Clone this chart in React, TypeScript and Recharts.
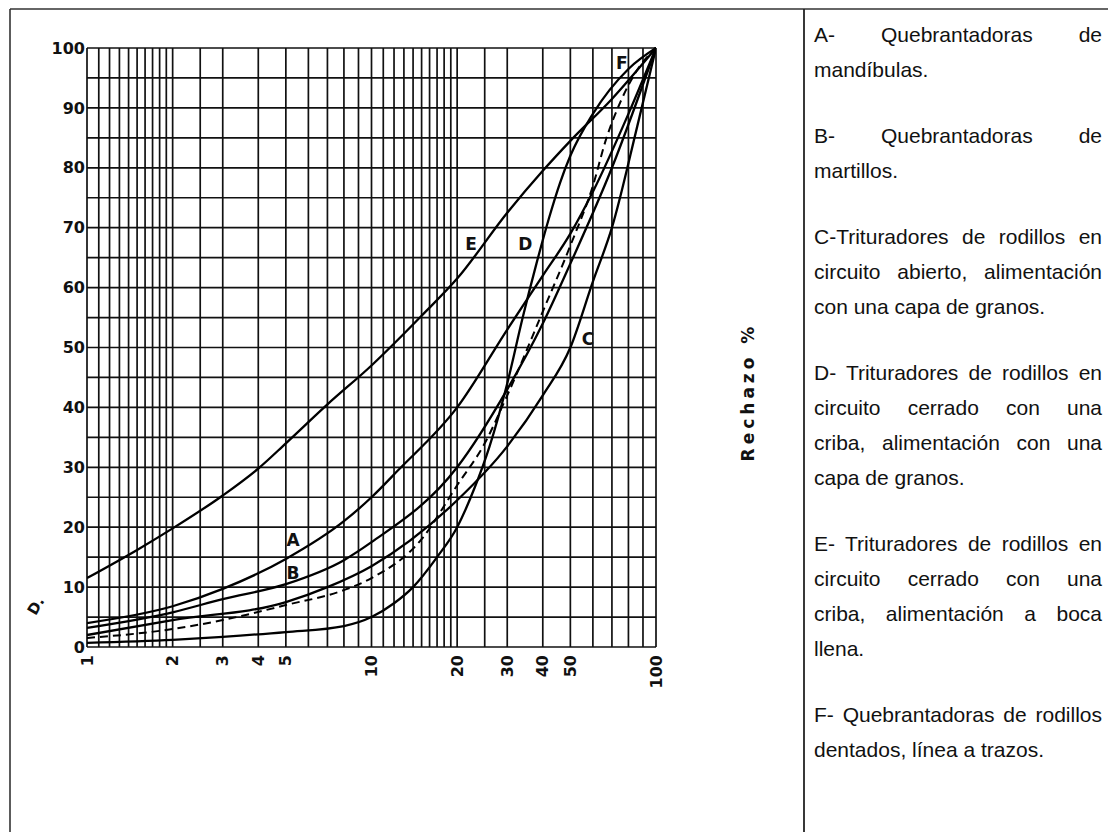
import React from 'react';
import { LineChart, Line, XAxis, YAxis, ReferenceLine, ReferenceDot } from 'recharts';

// ---- axis / grid values ----
const xTicks = [1, 2, 3, 4, 5, 10, 20, 30, 40, 50, 100];
const yTicks = [0, 10, 20, 30, 40, 50, 60, 70, 80, 90, 100];
const gridX = [1, 1.1, 1.2, 1.3, 1.4, 1.5, 1.6, 1.7, 1.8, 1.9, 2, 2.5, 3, 4, 5, 6, 7, 8, 9, 10,
  11, 12, 13, 14, 15, 16, 17, 18, 19, 20, 25, 30, 40, 50, 60, 70, 80, 90, 100];
const gridY = [0, 5, 10, 15, 20, 25, 30, 35, 40, 45, 50, 55, 60, 65, 70, 75, 80, 85, 90, 95, 100];

// ---- curves (size on log axis, cumulative %) ----
const sizeA = [1, 2, 3, 5, 8, 10, 12.4, 20, 30, 40, 50, 60, 80, 100];
const pctA = [4, 6.8, 9.7, 14.7, 21, 25, 29.5, 40, 53, 62, 69, 76, 89, 100];

const sizeB = [1, 2, 3, 5, 8, 10, 20, 30, 40, 50, 70, 100];
const pctB = [3.2, 5.8, 8, 10.5, 14.5, 17.5, 30, 43, 54, 64, 80, 100];

const sizeC = [1, 2, 5, 7, 10, 20, 30, 40, 50, 60, 70, 86, 100];
const pctC = [2, 4.5, 7.5, 10, 13.5, 24.5, 33.5, 42, 50, 61, 70, 87, 100];

const sizeD = [1, 2, 3, 5, 8, 10, 12, 14, 17, 20, 23, 26, 30, 34, 38, 42, 46, 50, 60, 80, 100];
const pctD = [0.7, 1.2, 1.7, 2.5, 3.5, 5, 7.3, 10, 15, 20, 26.5, 33.5, 44, 55, 64, 71.5, 77.5, 82, 89, 96.5, 100];

const sizeE = [1, 1.5, 2, 3, 4, 5, 7, 10, 15, 20, 30, 40, 50, 70, 100];
const pctE = [11.5, 16.2, 19.8, 25.3, 29.8, 34, 40.5, 47, 55.3, 61.5, 72.5, 79.5, 84.5, 91.5, 100];

const sizeF = [1, 2, 3, 5, 8, 10, 15, 20, 25, 30, 40, 50, 60, 67, 75, 85, 100];
const pctF = [1.5, 3, 4.5, 7, 9.5, 11.5, 18, 27, 34, 42, 56, 67, 77, 85, 91, 96, 100];

const curveNames = ['A', 'B', 'C', 'D', 'E', 'F'];
const labelSize = [5.3, 5.3, 57.7, 34.7, 22.4, 75.9];
const labelPct = [17.8, 12.3, 51.5, 67.3, 67.3, 97.5];

const legendLines = [
  ['A-   Quebrantadoras   de', 'mandíbulas.'],
  ['B-   Quebrantadoras   de', 'martillos.'],
  ['C-Trituradores de rodillos en', 'circuito abierto, alimentación', 'con una capa de granos.'],
  ['D- Trituradores de rodillos en', 'circuito cerrado con una', 'criba, alimentación con una', 'capa de granos.'],
  ['E- Trituradores de rodillos en', 'circuito cerrado con una', 'criba, alimentación a boca', 'llena.'],
  ['F- Quebrantadoras de rodillos', 'dentados, línea a trazos.'],
];

const zip = (xs: number[], ys: number[]) => xs.map((x, i) => ({ x, y: ys[i] }));
const dataA = zip(sizeA, pctA);
const dataB = zip(sizeB, pctB);
const dataC = zip(sizeC, pctC);
const dataD = zip(sizeD, pctD);
const dataE = zip(sizeE, pctE);
const dataF = zip(sizeF, pctF);

const AX_FONT = 'DejaVu Sans, sans-serif';
const INK = '#111';

const XTick = (props: any) => {
  const { x, y, payload } = props;
  return (
    <text
      x={x}
      y={y}
      transform={`rotate(-90 ${x} ${y})`}
      textAnchor="end"
      dominantBaseline="central"
      fontFamily={AX_FONT}
      fontWeight={700}
      fontSize={16}
      fill={INK}
    >
      {payload.value}
    </text>
  );
};

const CurveLabel = (txt: string) => (props: any) => (
  <text
    x={props.cx}
    y={props.cy}
    textAnchor="middle"
    dominantBaseline="central"
    fontFamily={AX_FONT}
    fontWeight={700}
    fontSize={17}
    fill={INK}
  >
    {txt}
  </text>
);

export default function App() {
  const yAxisW = 60;
  return (
    <div style={{ position: 'absolute', left: 0, top: 0, width: 1108, height: 832, background: '#fff', overflow: 'hidden' }}>
      <div style={{ position: 'absolute', left: 0, top: 0 }}>
        <LineChart
          width={800}
          height={832}
          margin={{ top: 48, left: 87 - yAxisW, right: 144 - yAxisW, bottom: 832 - 647 - 50 }}
        >
          <XAxis
            dataKey="x"
            type="number"
            scale="log"
            domain={[1, 100]}
            ticks={xTicks}
            allowDataOverflow
            axisLine={false}
            tickLine={false}
            tickSize={0}
            tickMargin={8}
            height={50}
            interval={0}
            tick={<XTick />}
          />
          <YAxis
            yAxisId="left"
            type="number"
            domain={[0, 100]}
            ticks={yTicks}
            width={yAxisW}
            axisLine={false}
            tickLine={false}
            tickSize={0}
            tickMargin={2}
            interval={0}
            tick={{ fontFamily: AX_FONT, fontWeight: 700, fontSize: 16, fill: INK }}
          />
          <YAxis
            yAxisId="right"
            orientation="right"
            type="number"
            domain={[0, 100]}
            reversed
            ticks={yTicks}
            width={yAxisW}
            axisLine={false}
            tickLine={false}
            tickSize={0}
            tickMargin={4}
            interval={0}
            tick={{ fontFamily: AX_FONT, fontWeight: 700, fontSize: 16, fill: INK }}
          />
          {gridY.map((v) => (
            <ReferenceLine key={'gy' + v} yAxisId="left" y={v} stroke={INK} strokeWidth={1.7} />
          ))}
          {gridX.map((v) => (
            <ReferenceLine key={'gx' + v} yAxisId="left" x={v} stroke={INK} strokeWidth={1.7} />
          ))}
          <Line yAxisId="left" data={dataE} dataKey="y" type="monotone" dot={false} stroke="#000" strokeWidth={2.3} isAnimationActive={false} />
          <Line yAxisId="left" data={dataA} dataKey="y" type="monotone" dot={false} stroke="#000" strokeWidth={2.3} isAnimationActive={false} />
          <Line yAxisId="left" data={dataB} dataKey="y" type="monotone" dot={false} stroke="#000" strokeWidth={2.3} isAnimationActive={false} />
          <Line yAxisId="left" data={dataC} dataKey="y" type="monotone" dot={false} stroke="#000" strokeWidth={2.3} isAnimationActive={false} />
          <Line yAxisId="left" data={dataD} dataKey="y" type="monotone" dot={false} stroke="#000" strokeWidth={2.3} isAnimationActive={false} />
          <Line yAxisId="left" data={dataF} dataKey="y" type="monotone" dot={false} stroke="#000" strokeWidth={2} strokeDasharray="8 5" isAnimationActive={false} />
          {curveNames.map((n, i) => (
            <ReferenceDot
              key={'lbl' + n}
              yAxisId="left"
              x={labelSize[i]}
              y={labelPct[i]}
              r={0}
              shape={CurveLabel(n)}
            />
          ))}
        </LineChart>
      </div>
      <svg width={1108} height={832} style={{ position: 'absolute', left: 0, top: 0, pointerEvents: 'none' }}>
        <line x1={10} y1={9} x2={1108} y2={9} stroke="#333" strokeWidth={1.6} />
        <line x1={10} y1={9} x2={10} y2={832} stroke="#333" strokeWidth={1.6} />
        <line x1={804} y1={9} x2={804} y2={832} stroke="#222" strokeWidth={1.8} />
        <text
          x={748}
          y={392}
          transform="rotate(-90 748 392)"
          textAnchor="middle"
          dominantBaseline="central"
          fontFamily={AX_FONT}
          fontWeight={700}
          fontSize={17}
          letterSpacing={4}
          fill={INK}
        >
          Rechazo %
        </text>
        <text
          x={36}
          y={606}
          transform="rotate(-60 36 606)"
          textAnchor="middle"
          dominantBaseline="central"
          fontFamily={AX_FONT}
          fontWeight={700}
          fontSize={15}
          fill={INK}
        >
          D.
        </text>
      </svg>
      <div
        style={{
          position: 'absolute',
          left: 814,
          top: 17,
          width: 288,
          fontFamily: '"Liberation Sans", Arial, sans-serif',
          fontSize: 21,
          color: '#111',
        }}
      >
        {legendLines.map((para, pi) => (
          <div key={pi} style={{ marginBottom: 31 }}>
            {para.map((ln, li) => (
              <div
                key={li}
                style={{
                  height: 35,
                  lineHeight: '35px',
                  whiteSpace: 'nowrap',
                  textAlign: 'justify',
                  textAlignLast: li < para.length - 1 ? 'justify' : 'left',
                }}
              >
                {ln}
              </div>
            ))}
          </div>
        ))}
      </div>
    </div>
  );
}
